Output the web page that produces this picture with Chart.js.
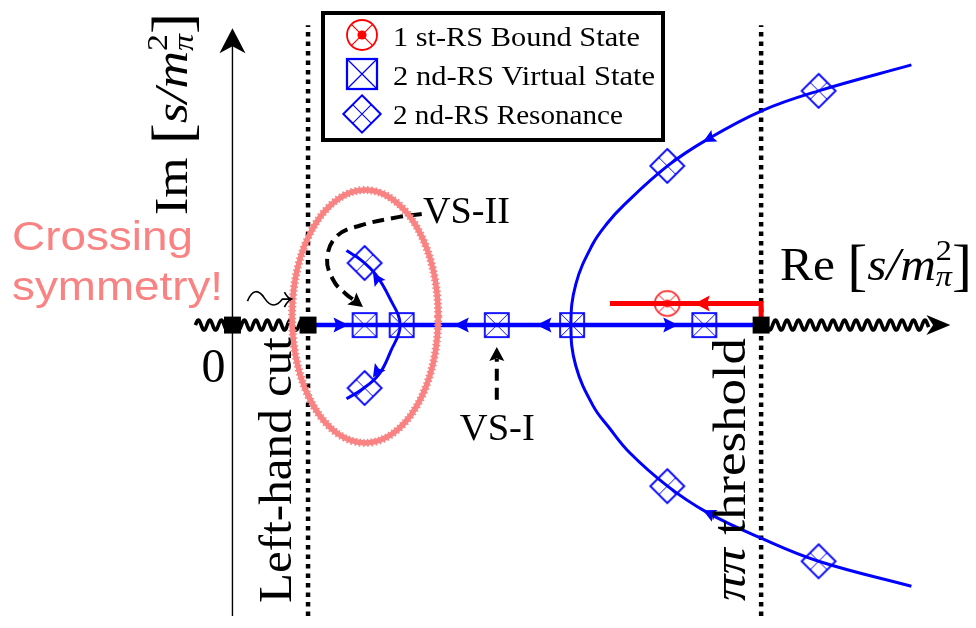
<!DOCTYPE html>
<html>
<head>
<meta charset="utf-8">
<script src="https://cdn.jsdelivr.net/npm/chart.js@4.4.1/dist/chart.umd.min.js"></script>
<style>
  html, body { margin: 0; padding: 0; background: #fff; }
  #wrap { width: 976px; height: 628px; }
</style>
</head>
<body>
<div id="wrap"><canvas id="sheet" width="976" height="628"></canvas></div>
<script>
// plane extent, in units of s/m_pi^2
var X_MIN = -1.668, X_MAX = 5.535, Y_MIN = -2.232, Y_MAX = 2.402;

// branch points on the real axis (origin, left-hand cut end, pi-pi threshold)
var branchX = [0, 0.572, 4.0];
var cutX = [0.572, 4.0];
var cutTop = 2.30;
var imAxisTop = 2.277;
var leftCutX = [-0.28, 0.572];
var rightCutX = [4.0, 5.27];
var rightCutTip = 5.432;

// poles
var virtualX = [1.0, 1.28, 2.0, 2.57, 3.57];
var resonanceX = [1.0, 1.0, 3.29, 3.29, 4.435, 4.435];
var resonanceY = [0.476, -0.483, 1.221, -1.236, 1.797, -1.812];
var boundX = [3.29];
var boundY = [0.166];

// pole trajectories
var realTrackX = [0.572, 4.0];
var redTrackX = [2.856, 4.0, 4.0];
var redTrackY = [0.166, 0.166, 0.06];
var hyperX = [5.137, 4.435, 4.0, 3.587, 3.292, 2.967, 2.834, 2.723, 2.598, 2.561,
              2.598, 2.731, 2.849, 3.004, 3.292, 3.587, 4.0, 4.435, 5.137];
var hyperY = [1.996, 1.797, 1.642, 1.421, 1.221, 0.926, 0.779, 0.616, 0.314, 0,
              -0.314, -0.624, -0.786, -0.978, -1.236, -1.435, -1.635, -1.812, -2.004];
var loopX = [0.863, 0.974, 1.085, 1.188, 1.269, 1.196, 1.107, 0.974, 0.863];
var loopY = [0.572, 0.498, 0.387, 0.210, 0, -0.203, -0.380, -0.498, -0.565];

// flow arrows: tip and a point behind it on the track
var flowTipX = [0.878, 1.675, 2.30, 3.373, 3.56, 3.56, 1.063, 1.063];
var flowTipY = [0, 0, 0, 0, 1.405, -1.42, 0.402, -0.402];
var flowFromX = [0.70, 1.85, 2.5, 3.2, 4.0, 4.0, 1.188, 1.196];
var flowFromY = [0, 0, 0, 0, 1.642, -1.635, 0.210, -0.203];
var redTipX = [3.498];
var redFromX = [3.8];

// annotation pointers
var vs2X = [1.432, 1.262, 0.967, 0.790, 0.716, 0.768, 0.856, 0.915];
var vs2Y = [0.852, 0.830, 0.764, 0.683, 0.506, 0.336, 0.240, 0.195];
var vs1X = [2.0, 2.0];
var vs1Y = [-0.572, -0.26];

// crossing-symmetry ring: centre x, centre y, half width, half height
var ring = [1.004, 0.066, 0.553, 0.970];

var legendLabels = ["1 st-RS Bound State", "2 nd-RS Virtual State", "2 nd-RS Resonance"];

var BLUE = "#0000ff", RED = "#ff0000", SALMON = "#f98383";
var SERIF = "Liberation Serif";

function pts(xs, ys) {
  return xs.map(function (x, i) { return { x: x, y: ys[i] }; });
}
function zeros(n) {
  var a = [];
  for (var i = 0; i < n; i++) a.push(0);
  return a;
}

function drawMarker(ctx, kind, x, y, s) {
  ctx.save();
  ctx.lineCap = "butt";
  if (kind === "vs") {
    var h = 12 * s;
    ctx.strokeStyle = BLUE;
    ctx.lineWidth = 1.8 * s;
    ctx.strokeRect(x - h, y - h, 2 * h, 2 * h);
    ctx.lineWidth = 1 * s;
    ctx.beginPath();
    ctx.moveTo(x - h, y - h); ctx.lineTo(x + h, y + h);
    ctx.moveTo(x + h, y - h); ctx.lineTo(x - h, y + h);
    ctx.stroke();
  } else if (kind === "res") {
    var r = 17 * s, m = r / 2;
    ctx.strokeStyle = BLUE;
    ctx.lineWidth = 1.8 * s;
    ctx.beginPath();
    ctx.moveTo(x, y - r); ctx.lineTo(x + r, y); ctx.lineTo(x, y + r); ctx.lineTo(x - r, y);
    ctx.closePath();
    ctx.stroke();
    ctx.lineWidth = 1 * s;
    ctx.beginPath();
    ctx.moveTo(x - m, y - m); ctx.lineTo(x + m, y + m);
    ctx.moveTo(x + m, y - m); ctx.lineTo(x - m, y + m);
    ctx.stroke();
  } else {
    var rr = 12.5 * s, d = rr * Math.SQRT1_2;
    ctx.strokeStyle = RED;
    ctx.lineWidth = 1.5 * s;
    ctx.beginPath(); ctx.arc(x, y, rr, 0, 2 * Math.PI); ctx.stroke();
    ctx.lineWidth = 1 * s;
    ctx.beginPath();
    ctx.moveTo(x - d, y - d); ctx.lineTo(x + d, y + d);
    ctx.moveTo(x + d, y - d); ctx.lineTo(x - d, y + d);
    ctx.stroke();
    ctx.fillStyle = RED;
    ctx.beginPath(); ctx.arc(x, y, 3.8 * s, 0, 2 * Math.PI); ctx.fill();
  }
  ctx.restore();
}

function markerCanvas(kind) {
  var c = document.createElement("canvas");
  c.width = 40; c.height = 40;
  drawMarker(c.getContext("2d"), kind, 20, 20, 1);
  return c;
}

function stealth(ctx, tx, ty, ux, uy, len, half, color) {
  var px = -uy, py = ux;
  ctx.fillStyle = color;
  ctx.beginPath();
  ctx.moveTo(tx, ty);
  ctx.lineTo(tx - ux * len + px * half, ty - uy * len + py * half);
  ctx.lineTo(tx - ux * len * 0.72, ty - uy * len * 0.72);
  ctx.lineTo(tx - ux * len - px * half, ty - uy * len - py * half);
  ctx.closePath();
  ctx.fill();
}

function arrowHead(ctx, tx, ty, fx, fy, len, half, color) {
  var dx = tx - fx, dy = ty - fy, n = Math.sqrt(dx * dx + dy * dy);
  var ux = dx / n, uy = dy / n, px = -uy, py = ux;
  ctx.fillStyle = color;
  ctx.beginPath();
  ctx.moveTo(tx, ty);
  ctx.lineTo(tx - ux * len + px * half, ty - uy * len + py * half);
  ctx.lineTo(tx - ux * len * 0.82, ty - uy * len * 0.82);
  ctx.lineTo(tx - ux * len - px * half, ty - uy * len - py * half);
  ctx.closePath();
  ctx.fill();
}

function wavy(ctx, x0, x1, y) {
  ctx.beginPath();
  for (var x = x0; x <= x1; x += 0.5) {
    var yy = y - 5 * Math.sin((x - x0) / 11.5 * 2 * Math.PI);
    if (x === x0) ctx.moveTo(x, yy); else ctx.lineTo(x, yy);
  }
  ctx.strokeStyle = "#000";
  ctx.lineWidth = 3.6;
  ctx.lineJoin = "round";
  ctx.stroke();
}

function partsWidth(ctx, parts) {
  var w = 0;
  parts.forEach(function (p) {
    ctx.font = p.font;
    var a = ctx.measureText(p.text).width;
    if (p.sub) { ctx.font = p.subFont || p.font; a = Math.max(a, ctx.measureText(p.sub).width); }
    w += a;
  });
  return w;
}

function drawParts(ctx, parts, x, y, width, angle, color) {
  ctx.save();
  ctx.translate(x, y);
  ctx.rotate(angle || 0);
  ctx.scale(width / partsWidth(ctx, parts), 1);
  ctx.fillStyle = color || "#000";
  ctx.textBaseline = "alphabetic";
  ctx.textAlign = "left";
  var cx = 0;
  parts.forEach(function (p) {
    ctx.font = p.font;
    ctx.fillText(p.text, cx, p.dy || 0);
    var w = ctx.measureText(p.text).width;
    if (p.sub) {
      ctx.font = p.subFont || p.font;
      ctx.fillText(p.sub, cx, p.subDy);
      w = Math.max(w, ctx.measureText(p.sub).width);
    }
    cx += w;
  });
  ctx.restore();
}

function unitLabel(name) {
  var f = "46px " + SERIF;
  return [
    { text: name, font: f },
    { text: " ", font: f },
    { text: "[", font: "56px " + SERIF, dy: 4 },
    { text: "s/m", font: "italic " + f },
    { text: "2", font: "30px " + SERIF, dy: -20, sub: "\u03c0", subFont: "italic 30px " + SERIF, subDy: 6 },
    { text: "]", font: "56px " + SERIF, dy: 4 }
  ];
}

var sketch = {
  id: "sketch",
  beforeDatasetsDraw: function (chart) {
    var ctx = chart.ctx, sx = chart.scales.x, sy = chart.scales.y;
    var ax = sx.getPixelForValue(0), y0 = sy.getPixelForValue(0);
    var top = sy.getPixelForValue(imAxisTop);
    ctx.save();
    ctx.strokeStyle = "#000";
    ctx.lineWidth = 1.4;
    ctx.beginPath();
    ctx.moveTo(ax, sy.getPixelForValue(Y_MIN));
    ctx.lineTo(ax, top + 12);
    ctx.stroke();
    stealth(ctx, ax, top, 0, -1, 25, 13, "#000");
    wavy(ctx, sx.getPixelForValue(leftCutX[0]), sx.getPixelForValue(leftCutX[1]), y0);
    wavy(ctx, sx.getPixelForValue(rightCutX[0]), sx.getPixelForValue(rightCutX[1]), y0);
    stealth(ctx, sx.getPixelForValue(rightCutTip), y0, 1, 0, 24, 10, "#000");
    ctx.restore();
  },
  afterDatasetsDraw: function (chart) {
    var ctx = chart.ctx, sx = chart.scales.x, sy = chart.scales.y;
    ctx.save();
    // flow arrows
    for (var i = 0; i < flowTipX.length; i++) {
      var big = flowTipY[i] === 0;
      arrowHead(ctx, sx.getPixelForValue(flowTipX[i]), sy.getPixelForValue(flowTipY[i]),
        sx.getPixelForValue(flowFromX[i]), sy.getPixelForValue(flowFromY[i]),
        big ? 15 : 13, big ? 7.5 : 6.5, BLUE);
    }
    arrowHead(ctx, sx.getPixelForValue(redTipX[0]), sy.getPixelForValue(boundY[0]),
      sx.getPixelForValue(redFromX[0]), sy.getPixelForValue(boundY[0]), 15, 8, RED);

    // heads of the dashed pointers
    function headOn(xs, ys) {
      var n = xs.length;
      var ex = sx.getPixelForValue(xs[n - 1]), ey = sy.getPixelForValue(ys[n - 1]);
      var bx = sx.getPixelForValue(xs[n - 2]), by = sy.getPixelForValue(ys[n - 2]);
      var dx = ex - bx, dy = ey - by, l = Math.sqrt(dx * dx + dy * dy);
      arrowHead(ctx, ex + dx / l * 12, ey + dy / l * 12, ex, ey, 14, 7.5, "#000");
    }
    headOn(vs2X, vs2Y);
    headOn(vs1X, vs1Y);

    // crossing-symmetry ring
    var cx = sx.getPixelForValue(ring[0]), cy = sy.getPixelForValue(ring[1]);
    var rx = sx.getPixelForValue(ring[0] + ring[2]) - cx;
    var ry = cy - sy.getPixelForValue(ring[1] + ring[3]);
    ctx.strokeStyle = SALMON;
    ctx.lineWidth = 5.5;
    ctx.beginPath(); ctx.ellipse(cx, cy, rx, ry, 0, 0, 2 * Math.PI); ctx.stroke();
    ctx.lineWidth = 8;
    ctx.setLineDash([1.5, 2.5]);
    ctx.beginPath(); ctx.ellipse(cx, cy, rx, ry, 0, 0, 2 * Math.PI); ctx.stroke();
    ctx.setLineDash([]);
    ctx.restore();
  },
  afterDraw: function (chart) {
    var ctx = chart.ctx, sx = chart.scales.x, sy = chart.scales.y;
    var y0 = sy.getPixelForValue(0);
    ctx.save();

    // axis labels
    drawParts(ctx, unitLabel("Re"), 780, 280, 192, 0);
    drawParts(ctx, unitLabel("Im"), 187, 215, 202, -Math.PI / 2);
    ctx.font = "48px " + SERIF;
    ctx.fillStyle = "#000";
    ctx.textAlign = "center";
    ctx.fillText("0", sx.getPixelForValue(0) - 19, 382);

    // cut labels
    drawParts(ctx, [{ text: "Left-hand cut", font: "47px " + SERIF }],
      sx.getPixelForValue(cutX[0]) - 17, 603, 266, -Math.PI / 2);
    drawParts(ctx, [{ text: "\u03c0\u03c0", font: "italic 47px " + SERIF },
                    { text: " threshold", font: "47px " + SERIF }],
      sx.getPixelForValue(cutX[1]) - 16, 601, 263, -Math.PI / 2);

    // pointer labels
    drawParts(ctx, [{ text: "VS-II", font: "38px " + SERIF }], 423, 223, 87, 0);
    drawParts(ctx, [{ text: "VS-I", font: "38px " + SERIF }], sx.getPixelForValue(vs1X[0]) - 37, 440, 75, 0);

    // crossing symmetry note
    drawParts(ctx, [{ text: "Crossing", font: "40px Liberation Sans" }], 12, 250, 181, 0, SALMON);
    drawParts(ctx, [{ text: "symmetry!", font: "40px Liberation Sans" }], 12, 300, 211, 0, SALMON);

    // squiggle arrow above the cut
    var qx = sx.getPixelForValue(0) + 15, qy = y0 - 27;
    ctx.strokeStyle = "#000";
    ctx.lineWidth = 1.6;
    ctx.beginPath();
    ctx.moveTo(qx, qy + 3);
    ctx.bezierCurveTo(qx + 5, qy - 9, qx + 11, qy - 9, qx + 17, qy);
    ctx.bezierCurveTo(qx + 23, qy + 9, qx + 29, qy + 9, qx + 35, qy + 1);
    ctx.lineTo(qx + 44, qy + 1);
    ctx.moveTo(qx + 37, qy - 6);
    ctx.quadraticCurveTo(qx + 40, qy, qx + 44, qy + 1);
    ctx.quadraticCurveTo(qx + 40, qy + 3, qx + 37, qy + 9);
    ctx.stroke();

    // legend
    ctx.fillStyle = "#fff";
    ctx.fillRect(323, 13, 340, 127);
    ctx.strokeStyle = "#000";
    ctx.lineWidth = 4;
    ctx.strokeRect(323, 13, 340, 127);
    drawMarker(ctx, "bound", 362, 35, 1.2);
    drawMarker(ctx, "vs", 362, 74, 1.25);
    drawMarker(ctx, "res", 362, 114, 1.1);
    var widths = [247, 262, 230], bases = [46, 85, 124];
    for (var k = 0; k < legendLabels.length; k++) {
      drawParts(ctx, [{ text: legendLabels[k], font: "28px " + SERIF }], 393, bases[k], widths[k], 0);
    }
    ctx.restore();
  }
};

var vsIcon = markerCanvas("vs");
var resIcon = markerCanvas("res");
var boundIcon = markerCanvas("bound");

function track(data, color, width, order, extra) {
  var d = {
    data: data, showLine: true, borderColor: color, borderWidth: width,
    pointRadius: 0, tension: 0, fill: false, order: order
  };
  for (var k in extra) d[k] = extra[k];
  return d;
}

new Chart(document.getElementById("sheet"), {
  type: "scatter",
  data: {
    datasets: [
      track(pts([cutX[0], cutX[0]], [Y_MIN, cutTop]), "#000", 4.5, 100, { borderDash: [4.5, 5] }),
      track(pts([cutX[1], cutX[1]], [Y_MIN, cutTop]), "#000", 4.5, 99, { borderDash: [4.5, 5] }),
      track(pts(realTrackX, zeros(2)), BLUE, 4.5, 90),
      track(pts(hyperX, hyperY), BLUE, 3, 80, { tension: 0.4 }),
      track(pts(loopX, loopY), BLUE, 3, 80, { tension: 0.4 }),
      track(pts(redTrackX, redTrackY), RED, 5, 79),
      track(pts(vs2X, vs2Y), "#000", 4, 60, { tension: 0.4, borderDash: [12, 7] }),
      track(pts(vs1X, vs1Y), "#000", 4, 60, { borderDash: [12, 7] }),
      { data: pts(virtualX, zeros(virtualX.length)), pointStyle: vsIcon, pointRadius: 10, order: 20 },
      { data: pts(resonanceX, resonanceY), pointStyle: resIcon, pointRadius: 10, order: 20 },
      { data: pts(boundX, boundY), pointStyle: boundIcon, pointRadius: 10, order: 19 },
      {
        data: pts(branchX, zeros(branchX.length)), pointStyle: "rect", pointRadius: 12,
        pointBackgroundColor: "#000", pointBorderColor: "#000", pointBorderWidth: 0, order: 10
      }
    ]
  },
  options: {
    responsive: false,
    animation: false,
    events: [],
    layout: { padding: 0 },
    plugins: { legend: { display: false }, tooltip: { enabled: false } },
    scales: {
      x: { type: "linear", min: X_MIN, max: X_MAX, display: false },
      y: { type: "linear", min: Y_MIN, max: Y_MAX, display: false }
    }
  },
  plugins: [sketch]
});
</script>
</body>
</html>
